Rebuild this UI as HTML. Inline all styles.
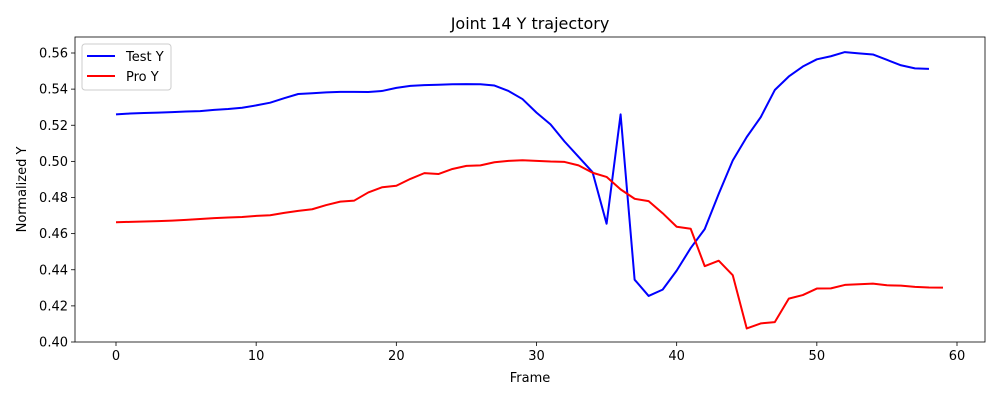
<!DOCTYPE html>
<html><head><meta charset="utf-8"><style>
body{margin:0;background:#fff;}
svg{display:block;font-family:"DejaVu Sans","Liberation Sans",sans-serif;}
</style></head><body>
<svg id="chart" width="1000" height="400"></svg>
<script>
const xTicks=[0,10,20,30,40,50,60];
const yTicks=[0.40,0.42,0.44,0.46,0.48,0.50,0.52,0.54,0.56];
const testY=[.526,.5265,.5268,.527,.5273,.5276,.5278,.5285,.529,.5297,.531,.5325,.535,.5373,.5377,.5382,.5385,.5385,.5384,.539,.5407,.5418,.5422,.5424,.5427,.5428,.5427,.542,.539,.5345,.527,.5205,.511,.5025,.494,.4655,.526,.4345,.4255,.429,.4395,.452,.4625,.482,.5005,.5135,.5245,.5395,.547,.5525,.5565,.5582,.5605,.5598,.5592,.5562,.5532,.5515,.5512];
const proY=[.4663,.4665,.4667,.4669,.4672,.4676,.4681,.4686,.4689,.4692,.4698,.4702,.4715,.4726,.4735,.4758,.4777,.4783,.4828,.4857,.4865,.4903,.4935,.4930,.4958,.4975,.4978,.4995,.5003,.5006,.5003,.4999,.4997,.4978,.4937,.4914,.4845,.4793,.4780,.4713,.4638,.4627,.4420,.4450,.4370,.4075,.4103,.4110,.4240,.4260,.4296,.4297,.4316,.4320,.4323,.4314,.4312,.4305,.4302,.4301];
const NS="http://www.w3.org/2000/svg";
const svg=document.getElementById('chart');
const L=75,R=985,T=37,B=342;
const xs=v=>116+v*(957-116)/60;
const ys=v=>342-(v-0.40)*(342-53)/0.16;
function mk(tag,attrs,txt){const e=document.createElementNS(NS,tag);for(const k in attrs)e.setAttribute(k,attrs[k]);if(txt!==undefined)e.textContent=txt;svg.appendChild(e);return e;}
xTicks.forEach(t=>{
  const l=mk('line',{x1:xs(t),x2:xs(t),y1:B,y2:B+4,stroke:'#000','stroke-width':0.8});
  
  
  const tx=mk('text',{x:xs(t),y:B+18,'text-anchor':'middle','font-size':13},String(t));
  
  
});
yTicks.forEach(t=>{
  const l=mk('line',{x1:L-4,x2:L,y1:ys(t),y2:ys(t),stroke:'#000','stroke-width':0.8});
  
  
  const tx=mk('text',{x:L-7,y:ys(t)+4.5,'text-anchor':'end','font-size':13},t.toFixed(2));
  
  
});
function line(arr,color,name){
  const p=mk('polyline',{points:arr.map((v,i)=>xs(i)+','+ys(v)).join(' '),fill:'none',stroke:color,'stroke-width':2,'stroke-linejoin':'round'});
  
  
}
line(testY,'#0000ff','test-y-line');
line(proY,'#ff0000','pro-y-line');
const fr=mk('rect',{x:L,y:T,width:R-L,height:B-T,fill:'none',stroke:'#000','stroke-width':0.8});


const ti=mk('text',{x:(L+R)/2,y:29,'text-anchor':'middle','font-size':16},'Joint 14 Y trajectory');


const xl=mk('text',{x:(L+R)/2,y:382,'text-anchor':'middle','font-size':13},'Frame');


const yl=mk('text',{x:26,y:(T+B)/2,'text-anchor':'middle','font-size':13,transform:'rotate(-90 26 '+((T+B)/2)+')'},'Normalized Y');


const lg=mk('rect',{x:82,y:44,width:89,height:46,rx:3,fill:'#fff',stroke:'#ccc','stroke-width':1});


[['Test Y','#0000ff',56],['Pro Y','#ff0000',76]].forEach(([n,c,y])=>{
  const s=mk('line',{x1:87,x2:115,y1:y,y2:y,stroke:c,'stroke-width':2});
  
  
  const t=mk('text',{x:126,y:y+5,'font-size':13},n);
  
  
});
</script>
</body></html>
